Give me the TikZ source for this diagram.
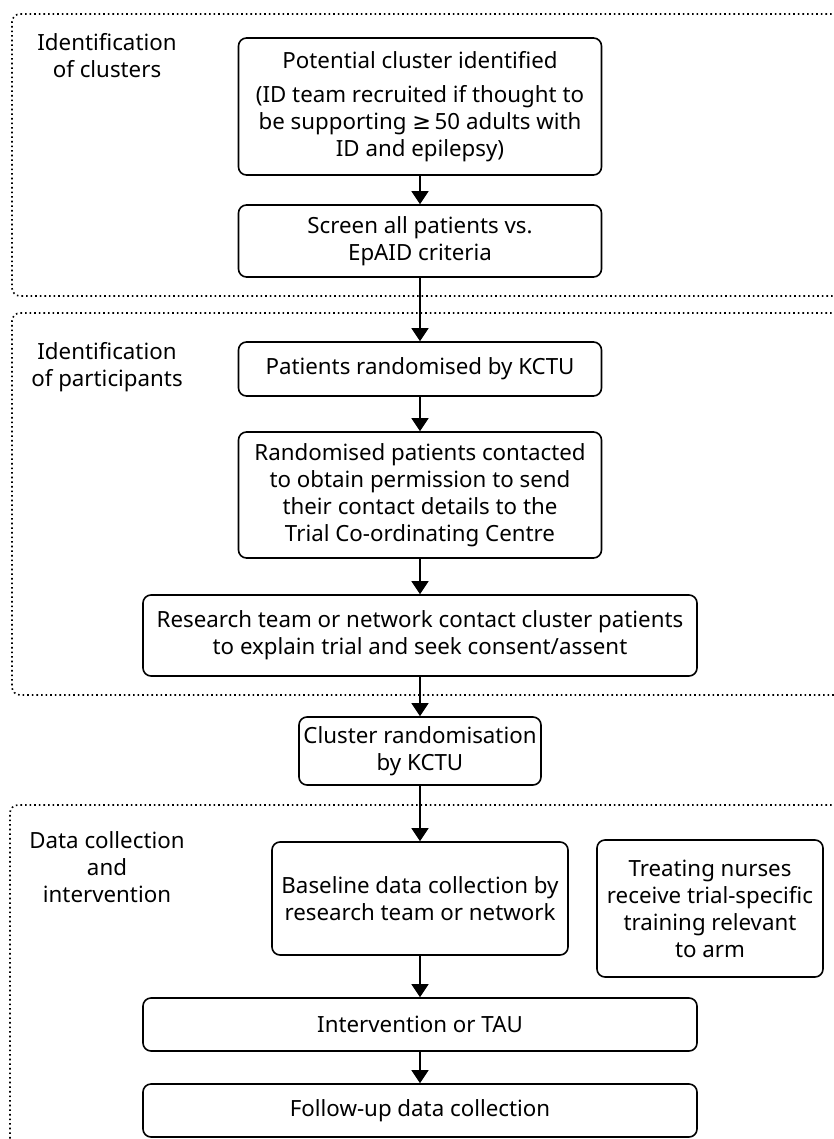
\documentclass[tikz,border=0pt]{standalone}
\usepackage{fontspec}
\setmainfont{Noto Sans}
\newfontfamily\symfont{DejaVu Sans}
\usetikzlibrary{arrows.meta,positioning}

\begin{document}
\begin{tikzpicture}[x=1pt, y=-1pt, font=\fontsize{22.3}{27}\selectfont]
            \tikzstyle{block} = [rectangle, draw, line width=1.6pt, rounded corners=8pt, align=center, inner sep=0pt]
            \tikzstyle{arrow} = [line width=1.2pt, -{Triangle[length=13pt,width=17pt]}]
            \tikzstyle{frame} = [line width=1.6pt, dash pattern=on 1.6pt off 3pt, rounded corners=8pt]
            \tikzstyle{stage} = [align=center, inner sep=0pt]

            \useasboundingbox (0,0) rectangle (833,1139);

            \draw [frame] (850,14) -- (12,14) -- (12,296) -- (850,296);
            \draw [frame] (850,313) -- (12,313) -- (12,695) -- (850,695);
            \draw [frame] (850,805) -- (10,805) -- (10,1160);

            \node [stage] (clusters) at (107,56) {Identification\\of clusters};
            \node [stage] (participants) at (107,367) {Identification\\of participants};
            \node [stage] (datacoll) at (107,867) {Data collection\\and\\intervention};

            \node [block, minimum width=363pt, minimum height=137pt] (potential) at (420,106.5) {Potential cluster identified\\[7pt](ID team recruited if thought to\\be supporting {\symfont ≥}\,50 adults with\\ID and epilepsy)};
            \node [block, minimum width=363pt, minimum height=72pt] (screen) at (420,241) {Screen all patients vs.\\EpAID criteria};
            \node [block, minimum width=363pt, minimum height=54pt] (randpat) at (420,369) {Patients randomised by KCTU};
            \node [block, minimum width=363pt, minimum height=126pt] (contact) at (420,495) {Randomised patients contacted\\to obtain permission to send\\their contact details to the\\Trial Co-ordinating Centre};
            \node [block, minimum width=554pt, minimum height=81pt] (consent) at (420,635.5) {Research team or network contact cluster patients\\to explain trial and seek consent/assent};
            \node [block, minimum width=242pt, minimum height=68pt] (clusterrand) at (420,751) {Cluster randomisation\\by KCTU};
            \node [block, minimum width=296pt, minimum height=113pt] (baseline) at (420,898.5) {Baseline data collection by\\research team or network};
            \node [block, minimum width=226pt, minimum height=137pt] (nurses) at (710,908.5) {Treating nurses\\receive trial-specific\\training relevant\\to arm};
            \node [block, minimum width=554pt, minimum height=53pt] (tau) at (420,1024.5) {Intervention or TAU};
            \node [block, minimum width=554pt, minimum height=53pt] (followup) at (420,1110.5) {Follow-up data collection};

            \draw [arrow] (potential) -- (screen);
            \draw [arrow] (screen) -- (randpat);
            \draw [arrow] (randpat) -- (contact);
            \draw [arrow] (contact) -- (consent);
            \draw [arrow] (consent) -- (clusterrand);
            \draw [arrow] (clusterrand) -- (baseline);
            \draw [arrow] (baseline) -- (tau);
            \draw [arrow] (tau) -- (followup);
        \end{tikzpicture}
\end{document}
